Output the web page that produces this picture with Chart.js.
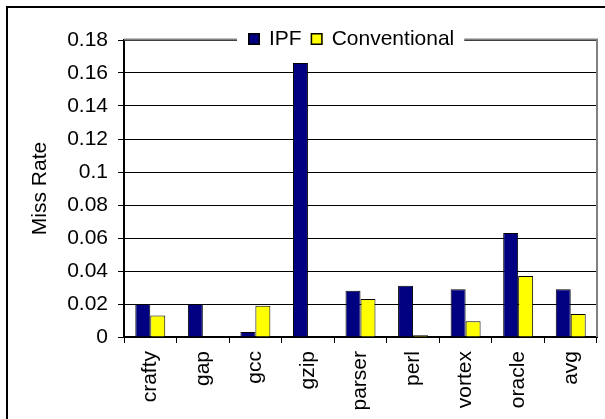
<!DOCTYPE html>
<html>
<head>
<meta charset="utf-8">
<script src="https://cdn.jsdelivr.net/npm/chart.js@4/dist/chart.umd.min.js"></script>
<style>
  html, body { margin: 0; padding: 0; background: #fff; }
  canvas { display: block; }
</style>
</head>
<body>
<canvas id="chart" width="605" height="419"></canvas>
<script>
// Benchmarks and their miss rates
const categories = ['crafty', 'gap', 'gcc', 'gzip', 'parser', 'perl', 'vortex', 'oracle', 'avg'];
const ipfValues = [0.020, 0.020, 0.003, 0.166, 0.028, 0.031, 0.029, 0.063, 0.029];
const conventionalValues = [0.013, 0, 0.019, 0, 0.023, 0.001, 0.0095, 0.037, 0.014];
const yTickValues = [0, 0.02, 0.04, 0.06, 0.08, 0.10, 0.12, 0.14, 0.16, 0.18];
const yTickLabels = ['0', '0.02', '0.04', '0.06', '0.08', '0.1', '0.12', '0.14', '0.16', '0.18'];

const FONT = "'Liberation Sans', Arial, sans-serif";
const FONT_SIZE = 21;
Chart.defaults.font.family = FONT;
Chart.defaults.font.size = FONT_SIZE;
Chart.defaults.color = '#000';

// White page, outer frame
const framePlugin = {
  id: 'frame',
  beforeDraw(chart) {
    const ctx = chart.ctx;
    ctx.save();
    ctx.fillStyle = '#fff';
    ctx.fillRect(0, 0, chart.width, chart.height);
    ctx.strokeStyle = '#000';
    ctx.lineWidth = 2;
    ctx.strokeRect(7, 7, chart.width + 20, chart.height + 20);
    ctx.restore();
  }
};

// Gray plot border on top/right and a boxed legend sitting on the top edge
const borderLegendPlugin = {
  id: 'borderLegend',
  afterDraw(chart) {
    const ctx = chart.ctx;
    const a = chart.chartArea;
    ctx.save();
    ctx.strokeStyle = '#808080';
    ctx.lineWidth = 2;
    ctx.beginPath();
    ctx.moveTo(a.left, a.top - 0.5);
    ctx.lineTo(a.right, a.top - 0.5);
    ctx.lineTo(a.right, a.bottom);
    ctx.stroke();

    ctx.font = FONT_SIZE + 'px ' + FONT;
    const sq = 12, sqGap = 9, itemGap = 9;
    const items = chart.data.datasets.map(d => ({
      label: d.label, color: d.backgroundColor, w: ctx.measureText(d.label).width
    }));
    let total = 0;
    items.forEach((it, i) => { total += sq + sqGap + it.w + (i ? itemGap : 0); });
    const cx = a.left + (a.right - a.left) * 0.48;
    const cy = a.top - 1;
    let x = Math.round(cx - total / 2);
    ctx.fillStyle = '#fff';
    ctx.fillRect(x - 11, cy - 11, total + 21, 22);
    ctx.textBaseline = 'middle';
    ctx.textAlign = 'left';
    items.forEach(it => {
      const top = Math.round(cy - sq / 2);
      ctx.fillStyle = it.color;
      ctx.fillRect(x, top, sq, sq);
      ctx.strokeStyle = '#000';
      ctx.lineWidth = 1.5;
      ctx.strokeRect(x + 0.75, top + 0.75, sq - 1.5, sq - 1.5);
      x += sq + sqGap;
      ctx.fillStyle = '#000';
      ctx.fillText(it.label, x, cy);
      x += it.w + itemGap;
    });
    ctx.restore();
  }
};

new Chart(document.getElementById('chart'), {
  type: 'bar',
  data: {
    labels: categories,
    datasets: [
      {
        label: 'IPF',
        data: ipfValues,
        backgroundColor: '#000080',
        borderColor: '#000',
        borderWidth: 1,
        categoryPercentage: 0.57,
        barPercentage: 1.0
      },
      {
        label: 'Conventional',
        data: conventionalValues,
        backgroundColor: '#FFFF00',
        borderColor: '#000',
        borderWidth: 1,
        categoryPercentage: 0.57,
        barPercentage: 1.0
      }
    ]
  },
  options: {
    responsive: false,
    animation: false,
    events: [],
    layout: { padding: { left: 0, right: 8, top: 40, bottom: 0 } },
    plugins: {
      legend: { display: false },
      tooltip: { enabled: false }
    },
    scales: {
      x: {
        grid: { drawOnChartArea: false, drawTicks: true, tickLength: 6, color: '#000', lineWidth: 1 },
        border: { color: '#000', width: 2 },
        ticks: { minRotation: 90, maxRotation: 90, autoSkip: false, padding: 8, color: '#000', font: { size: FONT_SIZE } },
        afterFit(scale) { scale.height = 82; }
      },
      y: {
        min: 0,
        max: 0.18,
        afterBuildTicks(scale) { scale.ticks = yTickValues.map(v => ({ value: v })); },
        ticks: {
          padding: 10,
          color: '#000',
          font: { size: FONT_SIZE },
          callback: (v, i) => yTickLabels[i]
        },
        grid: { color: '#000', lineWidth: 1, tickLength: 6 },
        border: { color: '#000', width: 2 },
        title: {
          display: true,
          text: 'Miss Rate',
          color: '#000',
          font: { size: FONT_SIZE },
          padding: { top: 28, bottom: 0 }
        },
        afterFit(scale) { scale.width = 124; }
      }
    }
  },
  plugins: [framePlugin, borderLegendPlugin]
});
</script>
</body>
</html>
